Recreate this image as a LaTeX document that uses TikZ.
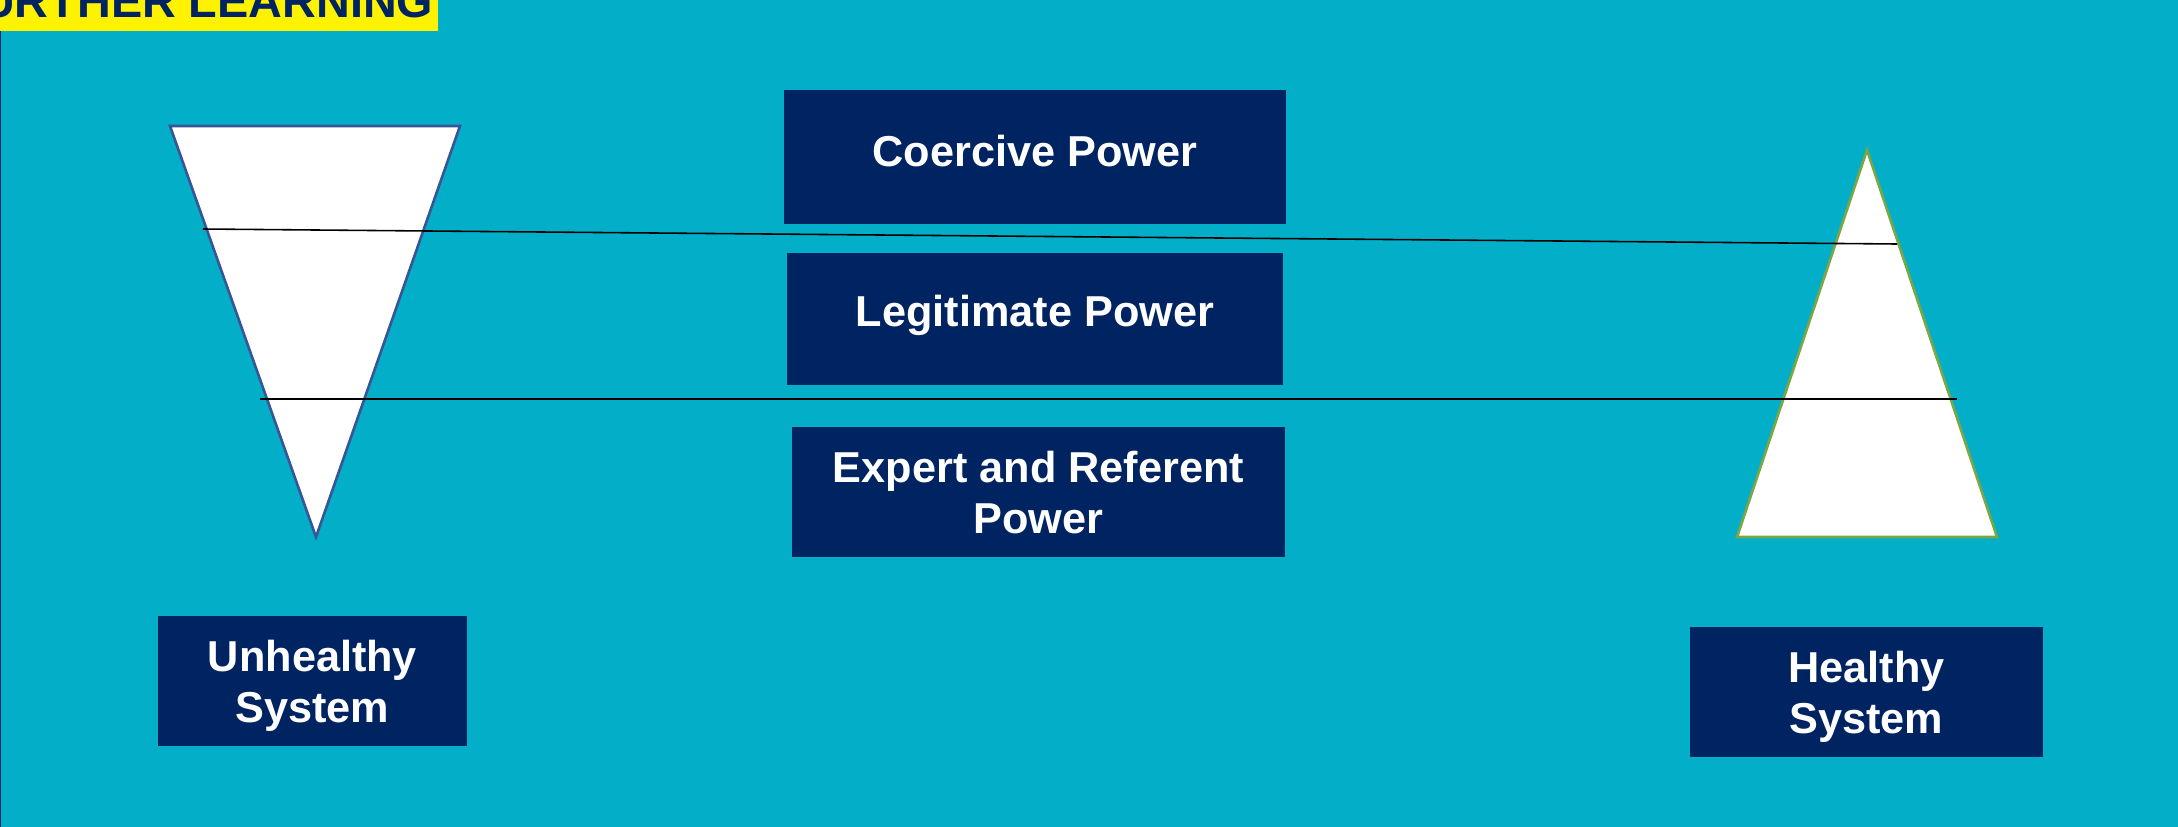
\documentclass[tikz,border=0pt]{standalone}
\usepackage{fontspec}
\setmainfont{Liberation Sans}
\usetikzlibrary{positioning}
\definecolor{bgteal}{RGB}{3,175,200}
\definecolor{navy}{RGB}{0,36,98}
\definecolor{invblue}{RGB}{56,86,150}
\definecolor{leafgreen}{RGB}{122,166,67}

\begin{document}
\begin{tikzpicture}[x=0.01cm,y=-0.01cm,node distance=1.62cm,
    power box/.style={rectangle,fill=navy,text=white,inner sep=0pt,align=center,minimum width=4.95cm,minimum height=1.32cm,font=\bfseries\fontsize{12.3}{14.5}\selectfont},
    one line/.style={text height=0.31cm,text depth=#1},
    system box/.style={power box,minimum height=1.30cm},
    level line/.style={black,line width=0.45pt}]

            \useasboundingbox (0,0) rectangle (2178,827);
            \clip (0,0) rectangle (2178,827);
            \fill[bgteal] (0,0) rectangle (2178,827);
            \draw[navy, line width=0.6pt] (0.4,31) -- (0.4,827);

            \fill[yellow] (0,0) rectangle (438,31);
            \node[anchor=base east, inner sep=0pt, text=navy, font=\bfseries\fontsize{13.3}{16}\selectfont] (title) at (434,17) {FURTHER LEARNING};

            \coordinate (utl) at (170,126);
            \coordinate (utr) at (460,126);
            \coordinate (ubot) at (316,537);
            \draw[invblue, line width=0.75pt, fill=white, line join=miter] (utl) -- (utr) -- (ubot) -- cycle;

            \coordinate (htop) at (1867,150);
            \coordinate (hbl) at (1737,537);
            \coordinate (hbr) at (1997,537);
            \draw[leafgreen, line width=0.75pt, fill=white, line join=miter] (htop) -- (hbr) -- (hbl) -- cycle;

            \coordinate (a1) at (203,229);
            \coordinate (a2) at (1897,244);
            \coordinate (b1) at (260,399);
            \coordinate (b2) at (1957,399);
            \draw[level line] (a1) -- (a2);
            \draw[level line] (b1) -- (b2);

            \node[power box, one line=0.12cm, minimum width=5.02cm, minimum height=1.34cm] (coercive) at (1035,157) {Coercive Power};
            \node[power box, one line=0.16cm] (legitimate) [below of=coercive]{Legitimate Power};
            \node[power box, minimum width=4.93cm, minimum height=1.30cm] (expert) [below of=legitimate, xshift=0.035cm, yshift=-0.11cm]{Expert and Referent\\Power};

            \node[system box, text depth=0pt, minimum width=3.09cm] (unhealthy) at (312.5,681) {Unhealthy\\System};
            \node[system box, text depth=0pt, minimum width=3.53cm] (healthy) at (1866.5,692) {Healthy\\System};
        \end{tikzpicture}
\end{document}
